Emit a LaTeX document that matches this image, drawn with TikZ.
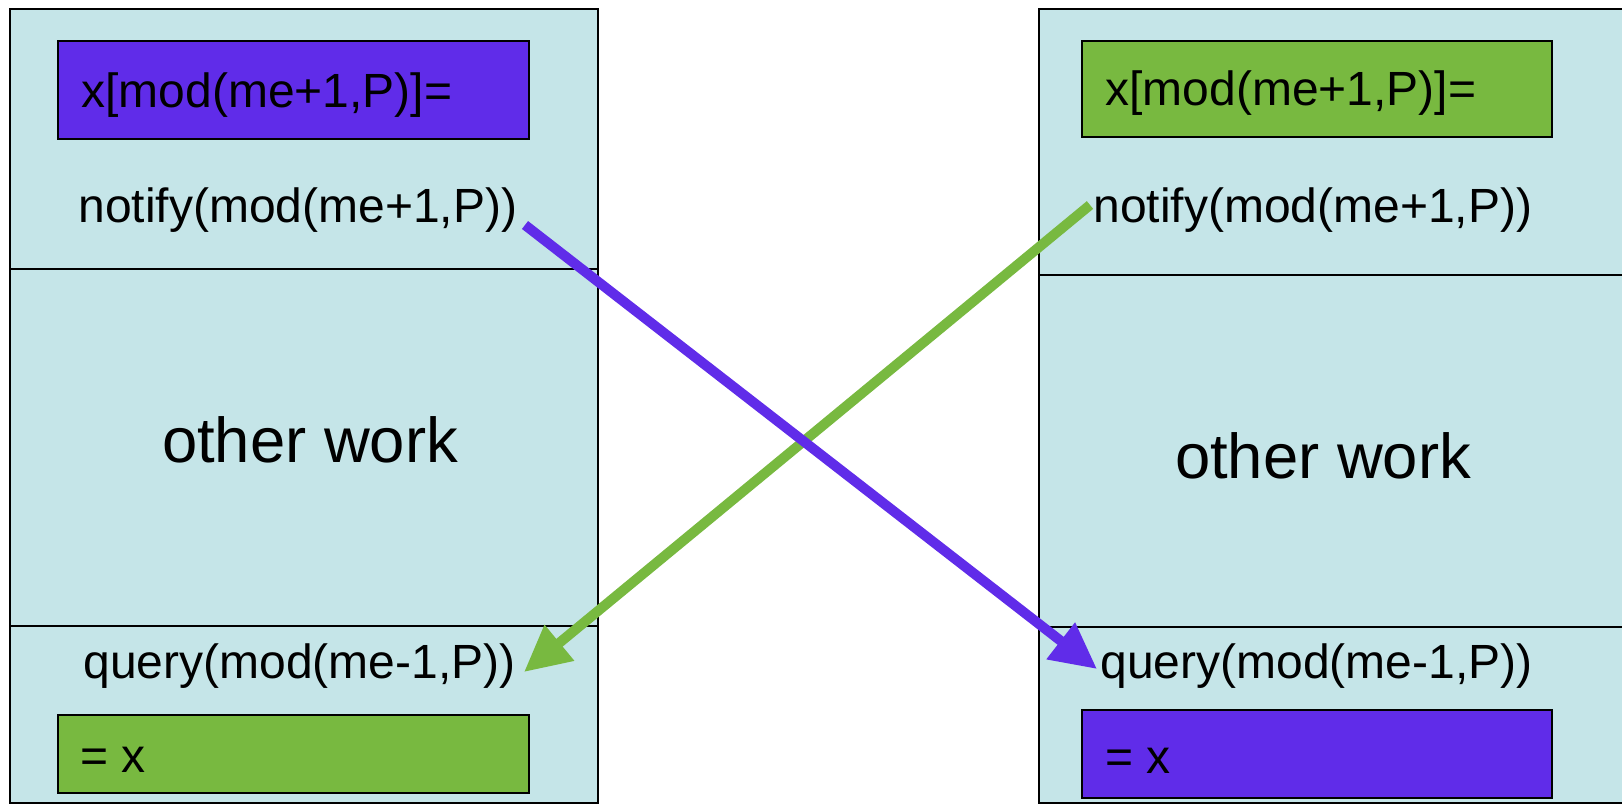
\documentclass[tikz,border=0pt]{standalone}
\usepackage{fontspec}
\setmainfont{Liberation Sans}
\usetikzlibrary{arrows.meta,fit}
\definecolor{cellblue}{RGB}{197,229,232}
\definecolor{vio}{RGB}{96,44,233}
\definecolor{grn}{RGB}{120,185,64}
\begin{document}
\begin{tikzpicture}[x=0.5pt,y=-0.5pt,
  cell/.style={draw=black, line width=1.3pt, fill=cellblue, inner sep=0pt},
  vbox/.style={draw=black, line width=1.2pt, fill=vio, inner sep=0pt},
  gbox/.style={draw=black, line width=1.2pt, fill=grn, inner sep=0pt},
  lbl/.style={anchor=base west, inner sep=0pt, font=\fontsize{24pt}{28pt}\selectfont},
  big/.style={anchor=base, inner sep=0pt, font=\fontsize{31.7pt}{36pt}\selectfont},
  varrow/.style={draw=vio, line width=5pt, -{Triangle[length=23pt,width=22pt]}},
  garrow/.style={draw=grn, line width=5pt, -{Triangle[length=23pt,width=22pt]}}]
\useasboundingbox (0,0) rectangle (1622,805);
\clip (0,0) rectangle (1622,805);
% left column
\node[cell, fit={(10,9) (598,269)}] (topL) {};
\node[cell, fit={(10,269) (598,626)}] (midL) {};
\node[cell, fit={(10,626) (598,803)}] (botL) {};
% right column
\node[cell, fit={(1039,9) (1640,275)}] (topR) {};
\node[cell, fit={(1039,275) (1640,627)}] (midR) {};
\node[cell, fit={(1039,627) (1640,803)}] (botR) {};
% coloured boxes
\node[vbox, fit={(58,41) (529,139)}] (boxL1) {};
\node[gbox, fit={(58,715) (529,793)}] (boxL2) {};
\node[gbox, fit={(1082,41) (1552,137)}] (boxR1) {};
\node[vbox, fit={(1082,710) (1552,798)}] (boxR2) {};
% texts left
\node[lbl] (setL) at (81,107) {x[mod(me+1,P)]=};
\node[lbl] (notifyL) at (78,222) {notify(mod(me+1,P))};
\node[big] (workL) at (310,462) {other work};
\node[lbl] (queryL) at (83,678) {query(mod(me-1,P))};
\node[lbl] (eqL) at (80,772) {= x};
% texts right
\node[lbl] (setR) at (1105,105) {x[mod(me+1,P)]=};
\node[lbl] (notifyR) at (1093,222) {notify(mod(me+1,P))};
\node[big] (workR) at (1323,478) {other work};
\node[lbl] (queryR) at (1100,678) {query(mod(me-1,P))};
\node[lbl] (eqR) at (1105,773) {= x};
% arrows
\coordinate (gS) at (1090,205);
\coordinate (gE) at (524,672);
\coordinate (pS) at (525,225);
\coordinate (pE) at (1097,669);
\draw[garrow] (gS) -- (gE);
\draw[varrow] (pS) -- (pE);
\end{tikzpicture}
\end{document}
